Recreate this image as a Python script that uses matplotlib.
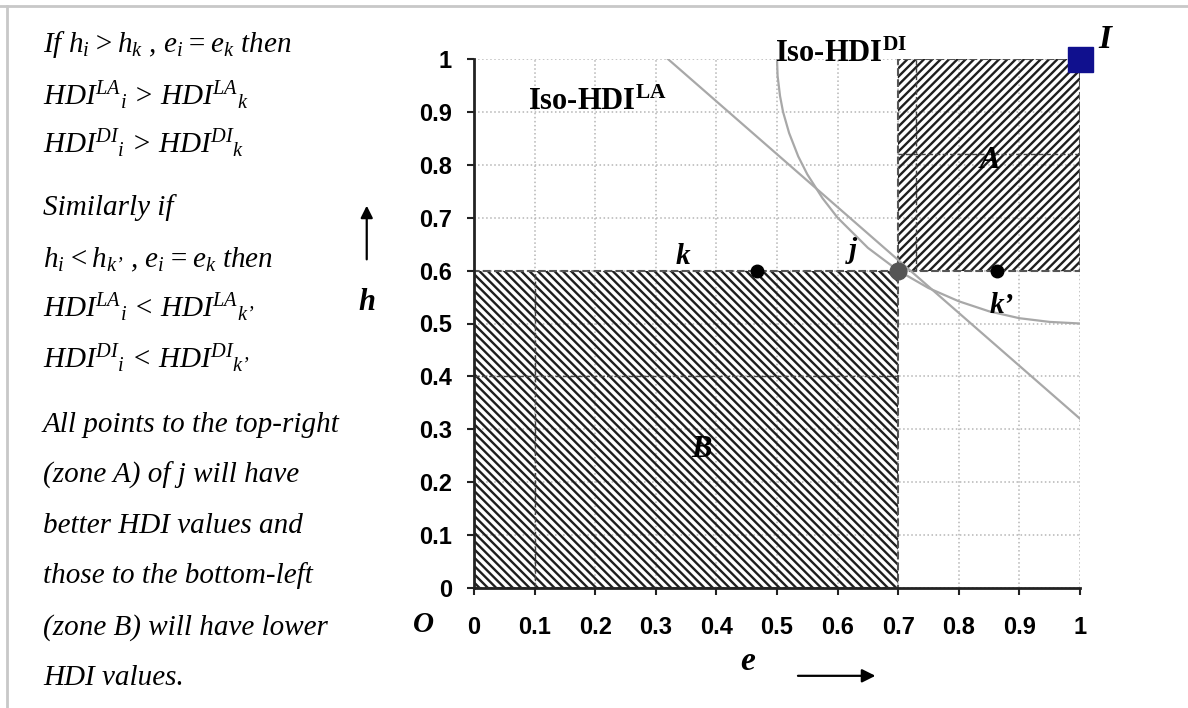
import matplotlib
matplotlib.use('Agg')
import matplotlib.pyplot as plt
from matplotlib.patches import Rectangle
from matplotlib.lines import Line2D

plt.rcParams['font.family'] = ['Liberation Serif', 'DejaVu Serif']
plt.rcParams['mathtext.fontset'] = 'custom'
plt.rcParams['mathtext.rm'] = 'Liberation Serif:italic'
plt.rcParams['mathtext.it'] = 'Liberation Serif:italic'
plt.rcParams['mathtext.bf'] = 'Liberation Serif:bold'
plt.rcParams['hatch.linewidth'] = 1.7

# axis ticks
ticks = [0, 0.1, 0.2, 0.3, 0.4, 0.5, 0.6, 0.7, 0.8, 0.9, 1.0]
tick_labels = ['0', '0.1', '0.2', '0.3', '0.4', '0.5', '0.6', '0.7', '0.8', '0.9', '1']

# iso-HDI curves
iso_la_e = [0.32, 1.0]
iso_la_h = [1.0, 0.32]
iso_di_e = [0.5, 0.501, 0.505, 0.51, 0.52, 0.535, 0.55, 0.575, 0.6, 0.65, 0.7,
            0.75, 0.8, 0.85, 0.9, 0.95, 1.0]
iso_di_h = [1.0, 0.968, 0.930, 0.900, 0.860, 0.816, 0.782, 0.737, 0.700, 0.643, 0.600,
            0.567, 0.542, 0.523, 0.510, 0.503, 0.500]

# points
pt_k = (0.467, 0.6)
pt_j = (0.7, 0.6)
pt_k2 = (0.863, 0.6)
pt_I = (1.0, 1.0)

# zones (e0, h0, e1, h1)
zone_a = (0.7, 0.6, 1.0, 1.0)
zone_b = (0.0, 0.0, 0.7, 0.6)

left_lines = [
    'If $h_i > h_k$ , $e_i = e_k$ then',
    'HDI${}^{LA}{}_{i}$ > HDI${}^{LA}{}_{k}$',
    'HDI${}^{DI}{}_{i}$ > HDI${}^{DI}{}_{k}$',
    'Similarly if',
    '$h_i < h_{k\u2019}$ , $e_i = e_k$ then',
    'HDI${}^{LA}{}_{i}$ < HDI${}^{LA}{}_{k\u2019}$',
    'HDI${}^{DI}{}_{i}$ < HDI${}^{DI}{}_{k\u2019}$',
    'All points to the top-right',
    '(zone A) of j will have',
    'better HDI values and',
    'those to the bottom-left',
    '(zone B) will have lower',
    'HDI values.',
]
left_baselines = [52, 105, 153, 215, 267, 317, 368, 432, 483, 533, 583, 635, 685]

fig = plt.figure(figsize=(11.88, 7.08), dpi=100)
ax = fig.add_axes([474 / 1188, 1 - 588 / 708, 606 / 1188, 529 / 708])
ax.set_xlim(0, 1)
ax.set_ylim(0, 1)

ax.set_axisbelow(True)
ax.grid(True, linestyle=':', color='#b5b5b5', lw=1.1)

for z, hatch in [(zone_a, '////'), (zone_b, '\\\\\\\\')]:
    ax.add_patch(Rectangle((z[0], z[1]), z[2] - z[0], z[3] - z[1], facecolor='none',
                           edgecolor='#1e1e1e', hatch=hatch, lw=0, zorder=1))
    ax.add_patch(Rectangle((z[0], z[1]), z[2] - z[0], z[3] - z[1], fill=False,
                           edgecolor='#555555', ls='--', lw=1.5, zorder=1.5))

# darker lines showing through the hatching
ax.plot([0, 0.7], [0.4, 0.4], color='#444444', ls='--', lw=1, zorder=1.6)
ax.plot([0.1, 0.1], [0, 0.6], color='#444444', ls='--', lw=1, zorder=1.6)
ax.plot([0.7, 1.0], [0.82, 0.82], color='#444444', ls='--', lw=1, zorder=1.6)
ax.plot([0.73, 0.73], [0.6, 1.0], color='#444444', ls='--', lw=1, zorder=1.6)

ax.plot(iso_la_e, iso_la_h, color='#a8a8a8', lw=1.6, zorder=2)
ax.plot(iso_di_e, iso_di_h, color='#a8a8a8', lw=1.6, zorder=2)

ax.plot(*pt_k, 'o', color='black', ms=9, zorder=3)
ax.plot(*pt_k2, 'o', color='black', ms=9, zorder=3)
ax.plot(*pt_j, 'o', color='#555555', ms=12, zorder=3)
ax.plot(*pt_I, 's', color='#10108e', ms=18, zorder=3, clip_on=False)

ax.spines['top'].set_visible(False)
ax.spines['right'].set_visible(False)
ax.spines['left'].set_linewidth(2)
ax.spines['bottom'].set_linewidth(2)
ax.spines['left'].set_color('#222222')
ax.spines['bottom'].set_color('#222222')

ax.set_xticks(ticks)
ax.set_xticklabels(tick_labels)
ax.set_yticks(ticks)
ax.set_yticklabels(tick_labels)
ax.tick_params(axis='x', direction='out', length=5, width=1.5, pad=15, color='#222222')
ax.tick_params(axis='y', direction='out', length=5, width=1.5, pad=11, color='#222222')
for lab in ax.get_xticklabels() + ax.get_yticklabels():
    lab.set_fontfamily('Liberation Sans')
    lab.set_fontweight('bold')
    lab.set_fontsize(17)

bi = dict(fontweight='bold', fontstyle='italic', clip_on=False)
ax.text(0.089, 0.904, 'Iso-HDI$^{\\mathbf{LA}}$', fontsize=22, fontweight='bold',
        ha='left', va='baseline')
ax.text(0.497, 0.994, 'Iso-HDI$^{\\mathbf{DI}}$', fontsize=22, fontweight='bold',
        ha='left', va='baseline')
ax.text(0.345, 0.612, 'k', fontsize=21, ha='center', va='baseline', **bi)
ax.text(0.625, 0.624, 'j', fontsize=21, ha='center', va='baseline', **bi)
ax.text(0.871, 0.52, 'k\u2019', fontsize=21, ha='center', va='baseline', **bi)
ax.text(0.851, 0.794, 'A', fontsize=22, ha='center', va='baseline', **bi)
ax.text(0.376, 0.248, 'B', fontsize=22, ha='center', va='baseline', **bi)
ax.text(1.041, 1.021, 'I', fontsize=24, ha='center', va='baseline', **bi)
ax.text(-0.084, -0.083, 'O', fontsize=21, ha='center', va='baseline', **bi)
ax.text(0.452, -0.155, 'e', fontsize=24, ha='center', va='baseline', **bi)
ax.text(-0.177, 0.526, 'h', fontsize=22, ha='center', va='baseline', **bi)

ax.annotate('', xy=(-0.177, 0.728), xytext=(-0.177, 0.616), annotation_clip=False,
            arrowprops=dict(arrowstyle='-|>', mutation_scale=18, lw=1.6, color='black'))
ax.annotate('', xy=(0.667, -0.166), xytext=(0.53, -0.166), annotation_clip=False,
            arrowprops=dict(arrowstyle='-|>', mutation_scale=20, lw=1.6, color='black'))

for line, base in zip(left_lines, left_baselines):
    fig.text(43 / 1188, 1 - base / 708, line, fontsize=21, fontstyle='italic',
             ha='left', va='baseline')

# picture frame
fig.add_artist(Line2D([0, 1], [1 - 6 / 708, 1 - 6 / 708], color='#c8c8c8', lw=2))
fig.add_artist(Line2D([7 / 1188, 7 / 1188], [0, 1 - 6 / 708], color='#c8c8c8', lw=2))

fig.savefig('out.png', dpi=100)
